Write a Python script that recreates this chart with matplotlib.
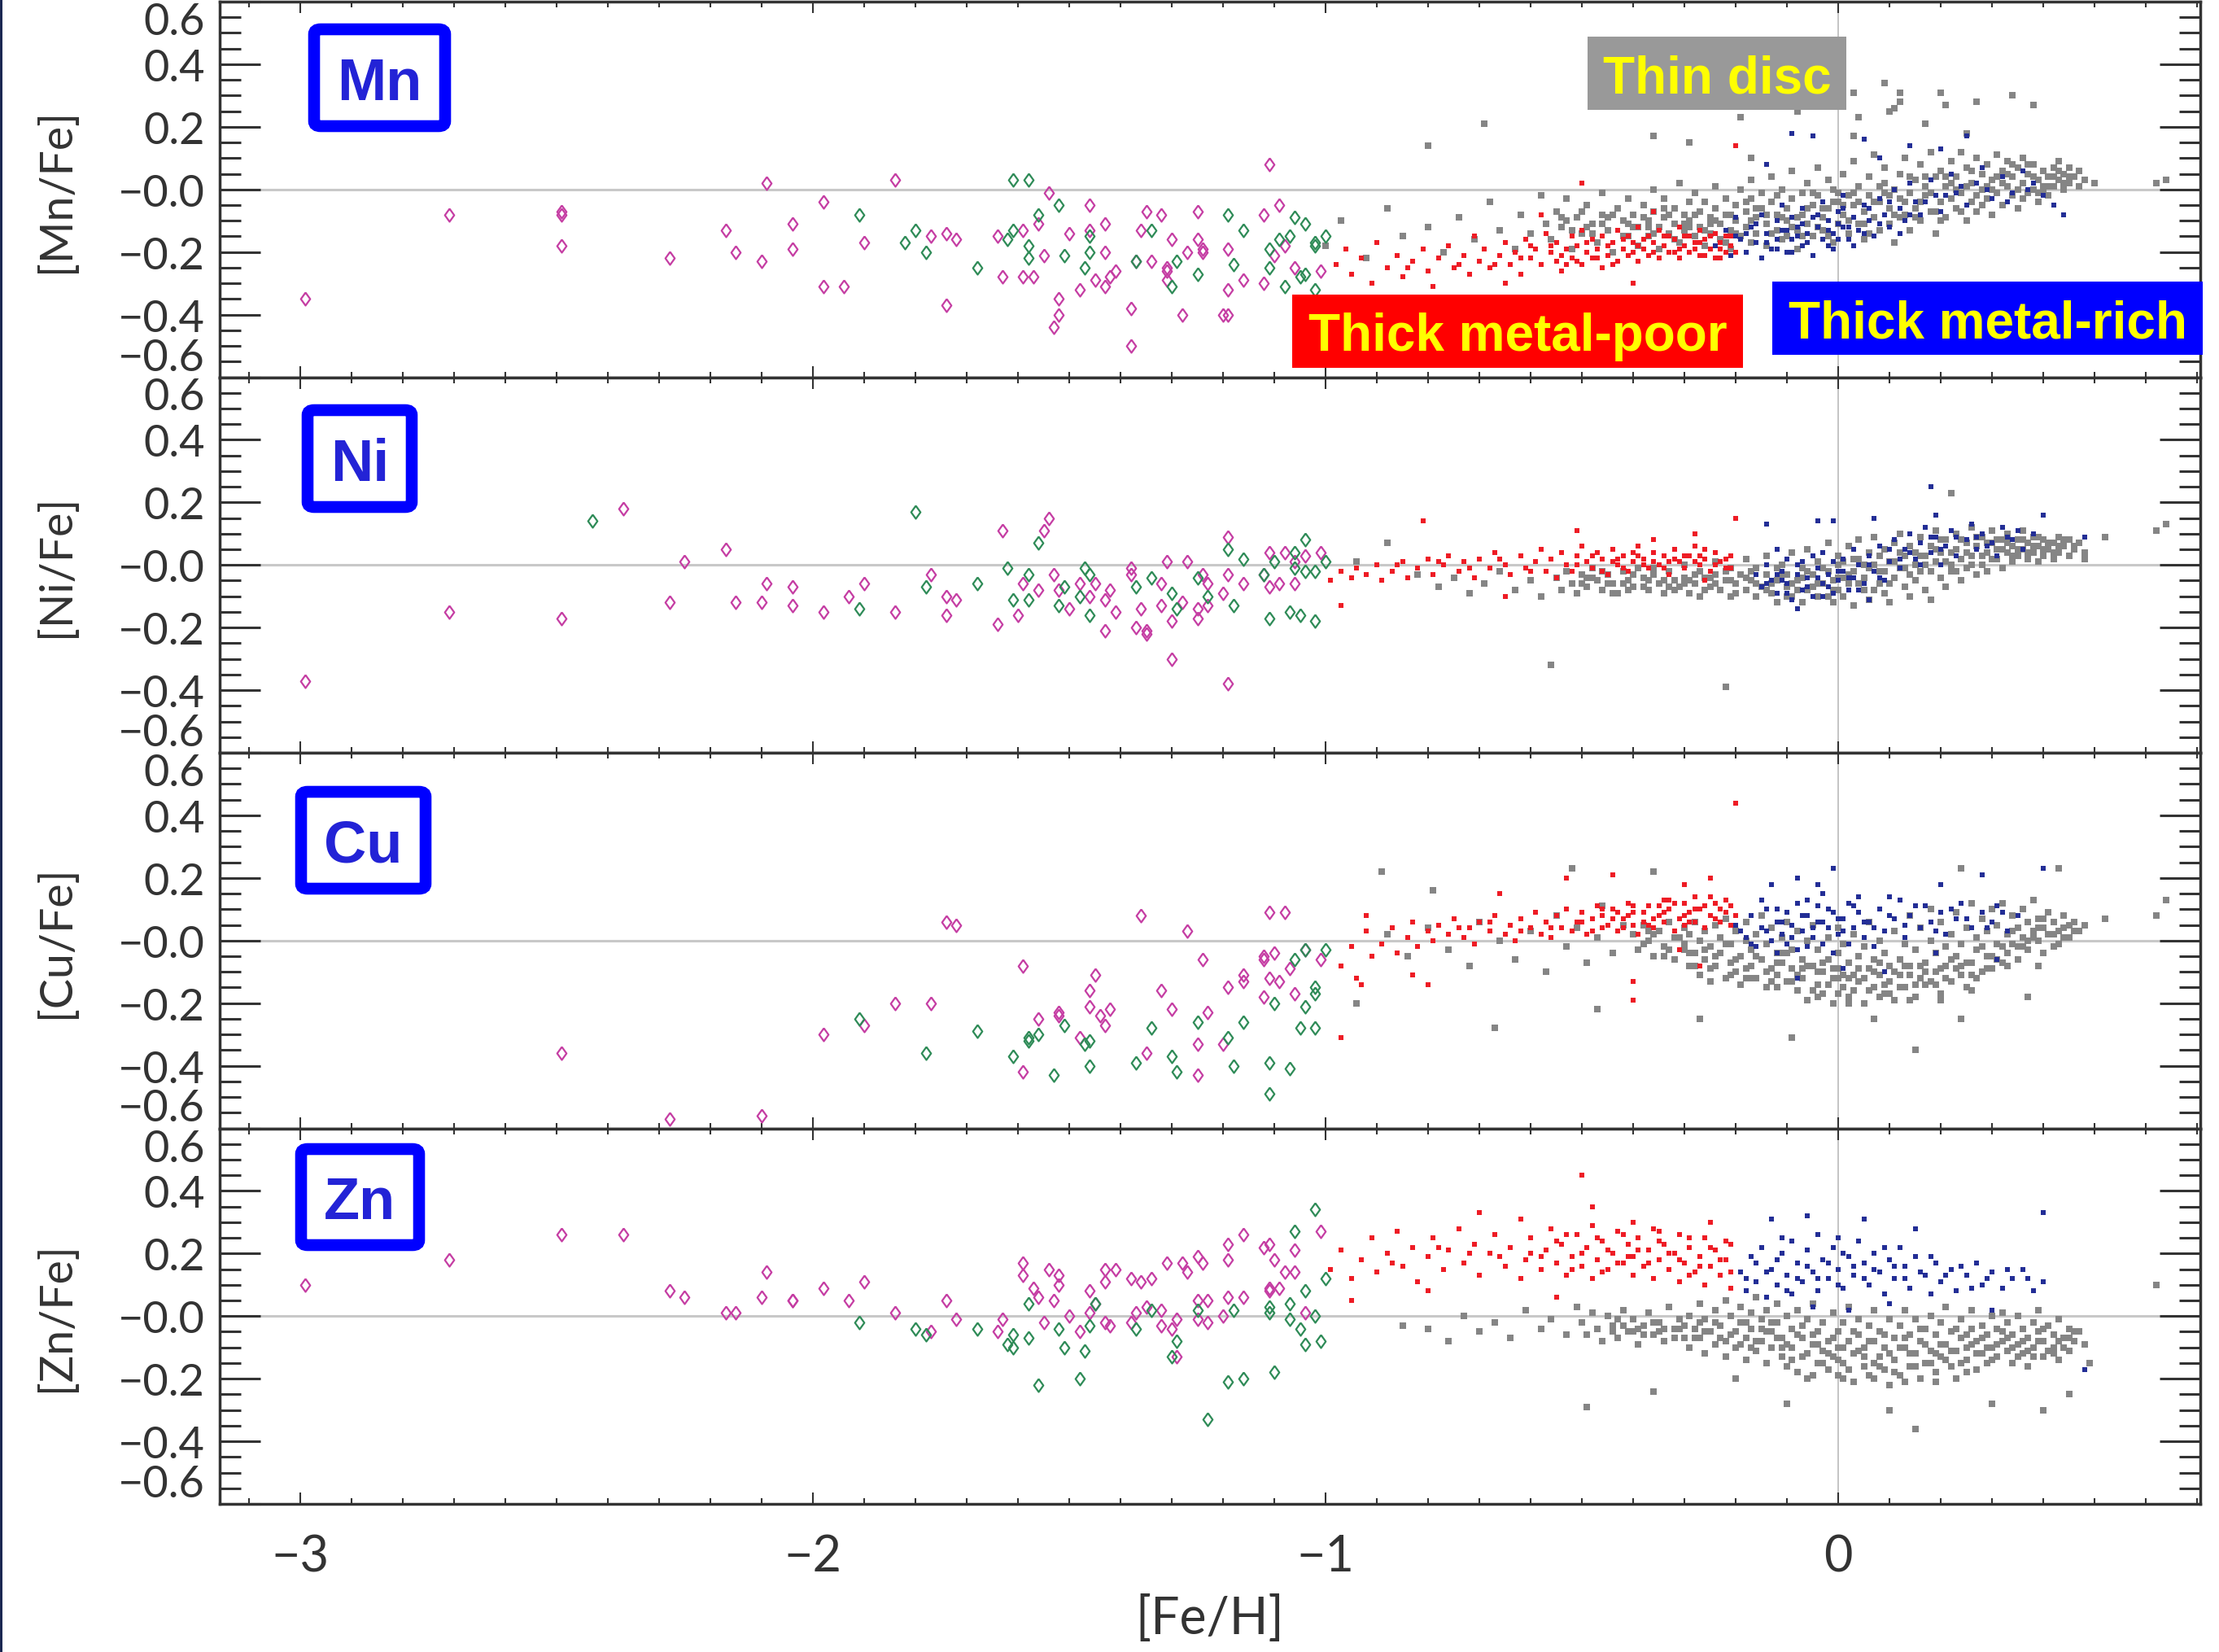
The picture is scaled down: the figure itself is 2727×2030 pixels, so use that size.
import numpy as np
import matplotlib
matplotlib.use('Agg')
import matplotlib.pyplot as plt
from matplotlib.patches import Rectangle, FancyBboxPatch
from matplotlib.ticker import MultipleLocator, FixedLocator

# ---- data: [X/Fe] against [Fe/H] ----
# halo stars (open diamonds), values in dex
mn_halo_a = [(-2.99,-0.35),(-2.71,-0.08),(-2.49,-0.08),(-2.49,-0.07),(-2.49,-0.18),(-2.28,-0.22),(-2.17,-0.13),
             (-2.15,-0.20),(-2.10,-0.23),(-2.09,0.02),(-2.04,-0.11),(-2.04,-0.19),(-1.98,-0.04),(-1.98,-0.31),
             (-1.94,-0.31),(-1.90,-0.17),(-1.84,0.03),(-1.77,-0.15),(-1.74,-0.14),(-1.72,-0.16),(-1.74,-0.37),
             (-1.64,-0.15),(-1.63,-0.28),(-1.59,-0.28),(-1.59,-0.13),(-1.57,-0.28),(-1.56,-0.11),(-1.55,-0.21),
             (-1.54,-0.01),(-1.52,-0.35),(-1.52,-0.40),(-1.53,-0.44),(-1.50,-0.14),(-1.48,-0.32),(-1.46,-0.13),
             (-1.46,-0.05),(-1.43,-0.20),(-1.43,-0.11),(-1.45,-0.29),(-1.43,-0.31),(-1.42,-0.28),(-1.41,-0.26),
             (-1.38,-0.38),(-1.38,-0.50),(-1.37,-0.23),(-1.36,-0.13),(-1.35,-0.07),(-1.34,-0.23),(-1.32,-0.08),
             (-1.31,-0.26),(-1.31,-0.25),(-1.31,-0.29),(-1.30,-0.16),(-1.28,-0.40),(-1.27,-0.20),(-1.25,-0.07),
             (-1.25,-0.16),(-1.24,-0.20),(-1.24,-0.19),(-1.19,-0.32),(-1.20,-0.40),(-1.19,-0.40),(-1.19,-0.19),
             (-1.16,-0.29),(-1.12,-0.30),(-1.12,-0.08),(-1.11,0.08),(-1.09,-0.05),(-1.10,-0.21),(-1.08,-0.18),
             (-1.06,-0.25),(-1.01,-0.26)]
mn_halo_b = [(-1.91,-0.08),(-1.80,-0.13),(-1.82,-0.17),(-1.78,-0.20),(-1.68,-0.25),(-1.61,0.03),(-1.58,0.03),
             (-1.56,-0.08),(-1.61,-0.13),(-1.62,-0.16),(-1.58,-0.18),(-1.58,-0.22),(-1.52,-0.05),(-1.51,-0.21),
             (-1.46,-0.15),(-1.47,-0.25),(-1.46,-0.20),(-1.37,-0.23),(-1.34,-0.13),(-1.29,-0.23),(-1.25,-0.27),
             (-1.30,-0.31),(-1.19,-0.08),(-1.16,-0.13),(-1.18,-0.24),(-1.11,-0.19),(-1.09,-0.16),(-1.07,-0.15),
             (-1.06,-0.09),(-1.04,-0.11),(-1.02,-0.17),(-1.02,-0.18),(-1.00,-0.15),(-1.11,-0.25),(-1.05,-0.28),
             (-1.04,-0.27),(-1.08,-0.31),(-1.02,-0.32)]

ni_halo_a = [(-2.99,-0.37),(-2.71,-0.15),(-2.49,-0.17),(-2.37,0.18),(-2.28,-0.12),(-2.25,0.01),(-2.17,0.05),
             (-2.15,-0.12),(-2.10,-0.12),(-2.09,-0.06),(-2.04,-0.07),(-2.04,-0.13),(-1.98,-0.15),(-1.93,-0.10),
             (-1.90,-0.06),(-1.84,-0.15),(-1.77,-0.03),(-1.74,-0.10),(-1.72,-0.11),(-1.74,-0.16),(-1.64,-0.19),
             (-1.63,0.11),(-1.60,-0.16),(-1.59,-0.06),(-1.56,-0.08),(-1.55,0.11),(-1.54,0.15),(-1.53,-0.03),
             (-1.52,-0.08),(-1.50,-0.14),(-1.48,-0.06),(-1.46,-0.10),(-1.45,-0.06),(-1.43,-0.21),(-1.43,-0.11),
             (-1.42,-0.08),(-1.41,-0.15),(-1.38,-0.01),(-1.38,-0.03),(-1.37,-0.20),(-1.35,-0.22),(-1.35,-0.21),
             (-1.36,-0.14),(-1.32,-0.06),(-1.32,-0.13),(-1.31,0.01),(-1.30,-0.18),(-1.30,-0.30),(-1.28,-0.12),
             (-1.27,0.01),(-1.25,-0.17),(-1.25,-0.14),(-1.24,-0.03),(-1.23,-0.06),(-1.23,-0.13),(-1.20,-0.09),
             (-1.19,0.09),(-1.19,-0.03),(-1.19,-0.38),(-1.16,-0.06),(-1.12,-0.03),(-1.11,-0.07),(-1.11,0.04),
             (-1.09,-0.06),(-1.08,0.04),(-1.06,-0.06),(-1.06,0.01),(-1.04,0.03),(-1.01,0.04)]
ni_halo_b = [(-2.43,0.14),(-1.80,0.17),(-1.91,-0.14),(-1.78,-0.07),(-1.68,-0.06),(-1.62,-0.01),(-1.61,-0.11),
             (-1.58,-0.03),(-1.58,-0.11),(-1.56,0.07),(-1.52,-0.13),(-1.51,-0.07),(-1.48,-0.10),(-1.47,-0.01),
             (-1.46,-0.16),(-1.46,-0.03),(-1.37,-0.07),(-1.34,-0.04),(-1.30,-0.09),(-1.29,-0.14),(-1.25,-0.04),
             (-1.23,-0.10),(-1.19,0.05),(-1.18,-0.13),(-1.16,0.02),(-1.11,-0.17),(-1.12,-0.03),(-1.10,0.01),
             (-1.07,-0.15),(-1.05,-0.16),(-1.02,-0.18),(-1.04,0.08),(-1.06,-0.01),(-1.04,-0.02),(-1.02,-0.02),
             (-1.00,0.01),(-1.06,0.04)]

cu_halo_a = [(-2.49,-0.36),(-2.28,-0.57),(-2.10,-0.56),(-1.98,-0.30),(-1.90,-0.27),(-1.84,-0.20),(-1.77,-0.20),
             (-1.74,0.06),(-1.72,0.05),(-1.59,-0.42),(-1.59,-0.08),(-1.56,-0.25),(-1.52,-0.24),(-1.52,-0.23),
             (-1.48,-0.31),(-1.46,-0.16),(-1.46,-0.21),(-1.45,-0.11),(-1.44,-0.24),(-1.43,-0.27),(-1.42,-0.22),
             (-1.36,0.08),(-1.35,-0.36),(-1.32,-0.16),(-1.30,-0.22),(-1.27,0.03),(-1.25,-0.43),(-1.25,-0.33),
             (-1.24,-0.06),(-1.23,-0.23),(-1.20,-0.33),(-1.19,-0.15),(-1.16,-0.11),(-1.16,-0.13),(-1.12,-0.06),
             (-1.12,-0.05),(-1.11,0.09),(-1.10,-0.04),(-1.11,-0.12),(-1.12,-0.18),(-1.09,-0.13),(-1.08,0.09),
             (-1.07,-0.09),(-1.06,-0.17),(-1.04,-0.03),(-1.01,-0.06)]
cu_halo_b = [(-1.91,-0.25),(-1.78,-0.36),(-1.68,-0.29),(-1.61,-0.37),(-1.58,-0.31),(-1.58,-0.32),(-1.56,-0.30),
             (-1.53,-0.43),(-1.51,-0.27),(-1.47,-0.33),(-1.46,-0.32),(-1.46,-0.40),(-1.37,-0.39),(-1.34,-0.28),
             (-1.30,-0.37),(-1.29,-0.42),(-1.25,-0.26),(-1.19,-0.31),(-1.18,-0.40),(-1.16,-0.26),(-1.11,-0.39),
             (-1.11,-0.49),(-1.10,-0.20),(-1.07,-0.41),(-1.06,-0.06),(-1.05,-0.28),(-1.04,-0.21),(-1.04,-0.03),
             (-1.02,-0.15),(-1.02,-0.28),(-1.02,-0.17),(-1.00,-0.03)]

zn_halo_a = [(-2.99,0.10),(-2.71,0.18),(-2.49,0.26),(-2.37,0.26),(-2.28,0.08),(-2.25,0.06),(-2.17,0.01),
             (-2.15,0.01),(-2.10,0.06),(-2.09,0.14),(-2.04,0.05),(-2.04,0.05),(-1.98,0.09),(-1.93,0.05),
             (-1.90,0.11),(-1.84,0.01),(-1.77,-0.05),(-1.74,0.05),(-1.72,-0.01),(-1.64,-0.05),(-1.63,-0.01),
             (-1.59,0.17),(-1.59,0.13),(-1.57,0.09),(-1.56,0.06),(-1.55,-0.02),(-1.54,0.15),(-1.53,0.05),
             (-1.52,0.13),(-1.52,0.10),(-1.50,0.00),(-1.48,-0.05),(-1.46,0.08),(-1.45,0.04),(-1.46,0.01),
             (-1.43,0.11),(-1.43,0.15),(-1.43,-0.02),(-1.42,-0.03),(-1.41,0.15),(-1.38,-0.02),(-1.38,0.12),
             (-1.37,0.01),(-1.36,0.11),(-1.34,0.12),(-1.35,0.03),(-1.32,0.02),(-1.32,-0.03),(-1.31,0.17),
             (-1.30,-0.04),(-1.29,-0.01),(-1.29,-0.13),(-1.28,0.17),(-1.27,0.14),(-1.25,0.19),(-1.24,0.17),
             (-1.25,0.05),(-1.23,0.05),(-1.25,-0.01),(-1.23,-0.02),(-1.20,0.00),(-1.19,0.06),(-1.19,0.23),
             (-1.19,0.18),(-1.16,0.26),(-1.16,0.06),(-1.12,0.22),(-1.11,0.23),(-1.10,0.18),(-1.11,0.09),
             (-1.11,0.08),(-1.09,0.09),(-1.08,0.14),(-1.06,0.14),(-1.06,0.21),(-1.01,0.27),(-1.04,0.01)]
zn_halo_b = [(-1.91,-0.02),(-1.80,-0.04),(-1.78,-0.06),(-1.68,-0.04),(-1.62,-0.09),(-1.61,-0.06),(-1.61,-0.10),
             (-1.58,0.04),(-1.58,-0.07),(-1.56,-0.22),(-1.52,-0.04),(-1.51,-0.10),(-1.48,-0.20),(-1.47,-0.11),
             (-1.46,-0.03),(-1.45,0.04),(-1.37,-0.04),(-1.34,0.02),(-1.30,-0.13),(-1.29,-0.08),(-1.25,0.02),
             (-1.23,-0.33),(-1.19,-0.21),(-1.18,0.02),(-1.16,-0.20),(-1.11,0.03),(-1.11,0.01),(-1.10,-0.18),
             (-1.07,0.04),(-1.07,-0.01),(-1.06,0.27),(-1.05,-0.04),(-1.04,0.08),(-1.04,-0.09),(-1.02,0.34),
             (-1.02,0.00),(-1.01,-0.08),(-1.00,0.12)]

# disc stars, values in hundredths of dex
mn_thin = [(-100,-18),(-97,-10),(-92,-22),(-88,-6),(-85,-15),(-80,-12),(-77,-20),(-74,-9),(-71,-16),(-68,-4),
           (-66,-13),(-63,-19),(-62,-8),(-60,-14),(-58,-2),(-57,-11),(-69,21),(-80,14),
           (-56,-16),(-55,-7),(-54,-12),(-53,-3),(-52,-19),(-51,-9),(-50,-14),(-49,-5),(-48,-11),(-47,-17),
           (-46,-1),(-46,-8),(-45,-13),(-44,-20),(-43,-6),(-42,-10),(-41,-15),(-41,-3),(-40,-8),
           (-39,-12),(-39,-18),(-38,-5),(-37,-10),(-37,-15),(-36,0),(-36,-7),(-35,-12),(-35,-19),(-34,-3),
           (-34,-9),(-33,-14),(-32,-6),(-32,-11),(-31,-17),(-31,2),(-30,-8),(-30,-13),(-29,-4),(-29,-10),
           (-28,-15),(-28,-1),(-27,-7),(-27,-12),(-26,-18),(-26,-4),(-25,-9),(-25,-14),(-24,1),(-24,-6),
           (-23,-11),(-23,-16),(-22,-3),(-22,-8),(-21,-13),(-21,-19),(-20,-5),(-20,-10),
           (-19,-15),(-19,0),(-18,-7),(-18,-12),(-17,3),(-17,-3),(-17,-17),(-16,-9),(-16,-14),(-15,-1),
           (-15,-6),(-14,-11),(-14,-18),(-13,4),(-13,-4),(-12,-8),(-12,-13),(-11,0),(-11,-16),(-10,-6),
           (-10,-10),(-9,6),(-9,-3),(-8,-13),(-8,-19),(-7,-1),(-7,-8),(-6,2),(-6,-11),(-5,-5),(-5,-15),
           (-4,7),(-4,-2),(-3,-9),(-3,-13),(-2,3),(-2,-6),(-1,-17),(-1,0),(0,-4),(0,-11),
           (1,5),(1,-8),(2,-2),(2,-14),(3,9),(3,-5),(4,1),(4,-11),(5,-7),(5,-16),(6,4),(6,-2),(7,-9),(7,11),
           (8,-4),(8,-13),(9,2),(9,7),(10,-6),(10,-11),(11,0),(11,-17),(12,5),(12,-3),(13,-8),(13,10),
           (14,-1),(14,-13),(15,3),(15,-6),(16,8),(16,-10),(17,-2),(17,1),(18,-7),(18,12),(19,4),(19,-14),
           (20,-4),(20,6),
           (21,-9),(21,1),(22,9),(22,-3),(23,-6),(23,4),(24,-1),(24,12),(25,-10),(25,7),(26,2),(26,-4),
           (27,10),(27,-7),(28,0),(28,5),(29,-3),(29,8),(30,-8),(30,3),(31,11),(31,-1),(32,6),(32,-5),
           (33,1),(33,9),(34,-2),(34,4),(35,7),(35,-6),(36,2),(36,10),(37,-1),(37,5),(38,8),(38,0),(39,3),
           (39,-4),(40,6),(40,1),
           (41,4),(41,-2),(42,7),(42,1),(43,3),(43,9),(44,0),(44,5),(45,2),(45,7),(46,4),(47,1),(47,6),
           (48,3),(50,2),
           (9,34),(12,31),(12,28),(20,31),(34,30),(38,27),(27,28),(3,31),(-8,25),(-19,23),(-36,17),(-29,15),
           (11,26),(10,25),(21,27),(17,21),(3,17),(4,23),(-17,10),(25,18),(62,2),(64,3)]
mn_thin_core = [(-54,-9),(-52,-13),(-50,-7),(-48,-14),(-46,-11),(-44,-8),(-42,-15),(-40,-12),(-38,-9),
                (-36,-14),(-34,-6),(-32,-16),(-30,-11),(-28,-8),(-26,-13),(-24,-10),(-22,-17),(-20,-14),
                (-18,-4),(-16,-6),(-14,-8),(-12,-2),(-10,-15),(-8,-9),(-6,-6),(-4,-12),(-2,-15),(0,-1),
                (2,-10),(4,-4),(6,-14),(8,1),(10,-2),(12,-9),(14,4),(16,-4),(18,-1),(20,-10),(22,2),(24,-7),
                (26,6),(28,-5),(30,0),(32,2),(34,8),(36,-3),(38,4),(40,-1),(42,4),(44,2),
                (-53,-10),(-49,-12),(-45,-9),(-41,-11),(-37,-12),(-33,-8),(-29,-12),(-25,-11),(-21,-8),
                (-17,-10),(-13,-14),(-11,-9),(-9,-12),(-7,-15),(-5,-1),(-3,-6),(-1,-4),(1,-5),(3,-1),
                (5,-11),(7,-4),(9,-1),(11,-8),(13,-4),(15,-9),(17,4),(19,-7),(21,4),(23,0),(25,1),(27,-2),
                (29,1),(31,4),(33,5),(35,0),(37,8),(39,-1),(41,1),(43,6),(45,4)]
mn_poor = [(-98,-24),(-96,-19),(-95,-27),(-93,-22),(-91,-30),(-90,-17),(-88,-25),(-86,-21),(-85,-28),
           (-83,-23),(-81,-19),(-80,-26),(-79,-31),(-78,-22),(-76,-18),(-75,-25),(-73,-21),(-72,-27),
           (-71,-15),(-70,-23),(-69,-19),(-68,-25),(-66,-21),(-65,-17),(-64,-24),(-63,-20),(-62,-27),
           (-61,-16),(-60,-22),(-59,-19),(-58,-24),(-57,-14),(-56,-20),(-55,-17),(-55,-23),(-54,-26),
           (-53,-19),(-52,-15),(-52,-22),(-51,-18),(-50,-24),(-50,-13),(-49,-20),(-48,-16),(-48,-22),
           (-47,-19),(-46,-25),(-46,-15),(-45,-21),(-44,-17),(-43,-23),(-43,-13),(-42,-19),(-41,-15),
           (-41,-21),(-40,-17),(-39,-23),(-39,-12),(-38,-19),(-37,-15),(-37,-21),(-36,-17),(-35,-13),
           (-35,-22),(-34,-18),(-33,-15),(-33,-20),(-32,-16),(-31,-22),(-31,-12),(-30,-18),(-29,-15),
           (-29,-20),(-28,-17),(-27,-13),(-27,-21),(-26,-16),(-25,-19),(-24,-14),(-24,-22),(-23,-17),
           (-22,-15),(-22,-20),(-21,-18),(-20,14),(-50,2),(-40,-30),(-65,-30),(-58,-8),(-36,-7),
           (-56,-18),(-54,-21),(-51,-23),(-49,-17),(-47,-22),(-45,-18),(-44,-24),(-42,-16),(-40,-20),
           (-38,-16),(-36,-20),(-34,-15),(-32,-20),(-30,-15),(-28,-19),(-26,-21),(-25,-15),(-23,-19),
           (-21,-15),(-20,-20),(-62,-22),(-67,-24),(-74,-24),(-84,-25),(-60,-18),(-53,-24),(-39,-18),
           (-27,-17),(-23,-22),(-31,-19)]
mn_rich = [(-24,-18),(-22,-13),(-21,-21),(-20,-9),(-19,-16),(-18,-20),(-17,-12),(-16,-17),(-15,-8),
           (-15,-22),(-14,-14),(-13,-19),(-12,-10),(-12,-16),(-11,-5),(-10,-13),(-10,-20),(-9,-9),(-9,-16),
           (-8,-12),(-7,-6),(-7,-18),(-6,-14),(-5,-9),(-5,-21),(-4,-12),(-3,-16),(-3,-4),(-2,-10),(-1,-14),
           (-1,-19),(0,-7),(1,-12),(1,-2),(2,-16),(3,-9),(4,-13),(5,-5),(6,-10),(7,-15),(8,-3),(9,-8),
           (10,-12),(11,0),(12,-6),(13,-10),(14,2),(15,-4),(16,-8),(18,3),(19,-2),(20,-7),(22,5),(23,-1),
           (25,-5),(27,2),(28,7),(30,-3),(32,4),(34,-1),(36,6),(38,2),(40,-2),(42,-5),(44,-8),
           (-9,18),(-5,17),(5,16),(20,13),(25,17),(-14,8),(8,10),(14,14),
           (-18,-14),(-16,-11),(-14,-17),(-12,-19),(-11,-13),(-9,-20),(-8,-15),(-6,-17),(-4,-8),(-2,-18),
           (-2,-13),(0,-16),(0,-11),(2,-12),(3,-18),(5,-14),(6,-6),(8,-11),(10,-4),(12,-14),(14,-8),
           (17,-4),(21,-2),(24,1),(29,0),(33,-4),(37,0),(-20,-15),(-7,-11),(1,-6)]

ni_thin = [(-94,1),(-88,7),(-82,-3),(-78,-7),(-75,-4),(-72,-9),(-69,-6),(-66,-2),(-63,-8),(-60,-5),
           (-58,-10),(-56,-32),(-22,-39),
           (-55,-4),(-54,-8),(-53,-2),(-52,-6),(-51,-9),(-50,-3),(-49,-7),(-48,-1),(-47,-5),(-46,-8),
           (-45,-3),(-44,-6),(-43,-9),(-42,-2),(-41,-5),(-40,-7),(-39,-1),(-38,-4),(-37,-8),(-36,-3),
           (-35,-6),(-34,-9),(-33,-2),(-32,-5),(-31,-7),(-30,0),(-30,-4),(-29,-9),(-28,-6),(-27,-2),
           (-27,-10),(-26,-4),(-25,-7),(-24,1),(-24,-3),(-23,-8),(-22,-5),(-21,-1),(-21,-10),(-20,-6),
           (-19,-3),(-18,-8),(-18,2),(-17,-5),(-16,-10),(-16,-1),(-15,-7),(-14,-3),(-14,3),(-13,-9),
           (-12,-5),(-12,-12),(-11,0),(-10,-7),(-10,-3),(-9,4),(-9,-10),(-8,-5),(-7,-1),(-7,-12),(-6,-8),
           (-6,5),(-5,-3),(-4,-10),(-4,1),(-3,-6),(-2,7),(-2,-2),(-1,-12),(-1,-8),(0,3),(0,-4),
           (1,-10),(1,1),(2,6),(2,-6),(3,-2),(3,-13),(4,8),(4,2),(5,-8),(5,-4),(6,4),(6,-11),(7,0),(7,9),
           (8,-6),(8,-2),(9,5),(9,-9),(10,1),(10,-12),(11,7),(11,-4),(12,-1),(12,10),(13,-7),(13,3),
           (14,-10),(14,6),(15,0),(15,-5),(16,9),(16,-2),(17,3),(17,-8),(18,6),(18,-11),(19,1),(19,11),
           (20,-4),(20,4),(21,-7),(21,8),(22,0),(22,-2),(23,5),(23,10),(24,-5),(24,2),(25,7),(25,-1),
           (26,12),(26,3),(27,-3),(27,6),(28,9),(28,0),(29,4),(29,-2),(30,7),(30,11),(31,2),(31,5),(32,8),
           (32,-1),(33,4),(33,10),(34,6),(34,1),(35,8),(35,3),(36,11),(36,5),(37,2),(37,7),(38,9),(38,4),
           (39,6),(39,1),(40,8),(40,3),(41,5),(42,7),(42,2),(43,9),(43,4),(44,6),(45,3),(45,8),(46,5),
           (47,7),(48,4),(22,23),(64,13),(62,11),(52,9),(48,2)]
ni_thin_core = [(-50,-6),(-48,-4),(-46,-2),(-44,-9),(-42,-6),(-40,-3),(-38,-7),(-36,-1),(-34,-5),(-32,-8),
                (-30,-6),(-28,-3),(-26,-8),(-24,-6),(-22,-2),(-20,-9),(-18,-4),(-16,-6),(-14,-8),(-12,-1),
                (-10,-10),(-8,-8),(-6,-2),(-4,-6),(-2,-10),(0,-8),(0,0),(2,-3),(4,-6),(6,-1),(8,3),(10,-6),
                (12,4),(14,-3),(16,3),(18,-2),(20,8),(22,4),(24,8),(26,0),(28,3),(30,2),(32,5),(34,3),(36,8),
                (38,6),(40,5),(42,4),(44,8),(46,6),
                (-49,-4),(-45,-6),(-41,-8),(-37,-5),(-33,-7),(-29,-5),(-25,-4),(-21,-5),(-17,-2),(-13,-6),
                (-11,-3),(-9,-6),(-7,-4),(-5,-7),(-3,-1),(-1,-5),(1,-4),(3,2),(5,0),(7,-8),(9,-2),(11,1),
                (13,-1),(15,4),(17,0),(19,5),(21,1),(23,-2),(25,4),(27,9),(29,7),(31,8),(33,7),(35,5),(37,4),
                (39,9),(41,7),(43,6)]
ni_poor = [(-99,-5),(-97,-2),(-95,-4),(-94,-1),(-92,-3),(-90,0),(-89,-5),(-87,-2),(-85,1),(-84,-4),(-82,-1),
           (-80,2),(-79,-3),(-77,0),(-76,3),(-74,-2),(-73,1),(-71,-4),(-70,2),(-68,-1),(-67,4),(-65,0),
           (-64,-3),(-62,3),(-61,-1),(-59,1),(-58,5),(-57,-2),(-56,2),(-55,-4),(-54,4),(-53,0),(-52,-2),
           (-51,3),(-50,6),(-49,1),(-48,-1),(-47,4),(-46,2),(-45,-3),(-44,5),(-43,0),(-42,3),(-41,-2),
           (-40,1),(-39,6),(-38,2),(-37,-1),(-36,4),(-35,0),(-34,3),(-33,-3),(-32,5),(-31,1),(-30,-1),
           (-29,3),(-28,6),(-27,0),(-26,2),(-25,-2),(-24,4),(-23,1),(-22,-1),(-21,3),
           (-81,14),(-20,15),(-97,-13),(-65,-10),(-51,11),(-28,10),(-26,-5),(-36,8),
           (-48,3),(-46,-2),(-44,1),(-42,-1),(-40,4),(-38,0),(-36,1),(-34,-1),(-32,2),(-30,3),(-28,1),
           (-26,5),(-24,0),(-22,2),(-21,-1),(-60,-2),(-66,2),(-72,-1),(-78,1),(-86,0),(-39,3),(-33,1),
           (-27,3),(-43,2),(-51,0)]
ni_rich = [(-16,-3),(-15,-7),(-14,0),(-13,-5),(-12,-9),(-11,-2),(-10,2),(-10,-6),(-9,-11),(-8,-3),(-7,1),
           (-7,-8),(-6,-4),(-5,3),(-5,-10),(-4,-1),(-3,-6),(-3,4),(-2,-3),(-1,-9),(-1,1),(0,-5),(1,2),
           (1,-2),(2,-8),(3,5),(3,-4),(4,0),(5,-6),(6,3),(7,-2),(8,6),(9,-5),(10,1),(11,8),(12,-1),(13,5),
           (14,10),(15,2),(16,7),(17,12),(18,4),(19,9),(20,0),(21,6),(22,11),(23,3),(25,8),(26,13),(27,5),
           (28,10),(30,7),(31,3),(32,12),(34,8),(36,5),(38,10),(-12,5),(-8,-14),(6,-11),
           (18,25),(-14,13),(-4,14),(-1,14),(7,15),(19,16),(40,16),(48,9),
           (-14,-6),(-12,-3),(-10,-9),(-8,0),(-6,-7),(-4,-4),(-2,-7),(0,-2),(2,-4),(4,-8),(6,0),(8,-4),
           (10,5),(12,2),(14,4),(16,0),(18,9),(20,5),(23,9),(27,9),(29,6),(33,9),(35,11),(-11,-5),(-3,-10)]

cu_thin = [(-94,-20),(-89,22),(-79,16),(-67,-28),(-47,-22),(-52,23),(-36,22),(-9,-31),(15,-35),(24,-25),
           (7,-25),(-27,-25),(37,-18),(24,23),(43,23),(64,13),(62,8),(52,7),(39,-8),
           (-88,2),(-84,-5),(-80,4),(-76,-3),(-72,-8),(-70,6),(-66,0),(-63,-6),(-60,3),(-57,-10),(-55,8),
           (-53,-2),(-51,4),(-49,-7),(-47,1),(-46,11),(-44,-4),(-42,5),
           (-40,2),(-39,-3),(-38,5),(-37,0),(-36,-5),(-35,3),(-34,-2),(-33,6),(-32,-6),(-31,1),(-30,-3),
           (-30,4),
           (-29,-8),(-29,2),(-28,-4),(-28,6),(-27,-11),(-27,0),(-26,-6),(-26,3),(-25,-13),(-25,-2),(-24,5),
           (-24,-8),(-23,-4),(-23,1),(-22,-12),(-22,7),(-21,-7),(-21,-1),(-20,3),(-20,-10),(-19,-5),
           (-19,-14),(-18,0),(-18,6),(-17,-8),(-17,-3),(-16,-12),(-16,2),(-15,-6),(-15,8),(-14,-1),
           (-14,-15),(-13,-9),(-13,4),(-12,-4),(-12,-11),(-11,1),(-11,-7),(-10,6),(-10,-13),
           (-9,-3),(-9,-9),(-8,-16),(-8,3),(-7,-6),(-7,-12),(-6,0),(-6,-19),(-5,-8),(-5,5),(-4,-14),
           (-4,-3),(-3,-10),(-3,-17),(-2,1),(-2,-6),(-1,-12),(-1,-20),(0,-4),(0,-9),(0,4),(1,-15),(1,-1),
           (2,-7),(2,-18),(3,-11),(3,2),(4,-5),(4,-13),(5,-20),(5,-2),(6,-9),(6,6),(7,-15),(7,-6),(8,-11),
           (8,0),(9,-17),(9,-4),(10,-8),(10,-13),
           (11,3),(11,-19),(12,-6),(12,-11),(13,-15),(13,-1),(14,-8),(14,8),(15,-3),(15,-18),(16,-12),
           (16,4),(17,-7),(17,-14),(18,0),(18,10),(19,-10),(19,-4),(20,-17),(20,6),(21,-2),(21,-8),
           (22,-13),(22,2),(23,9),(23,-5),(24,-11),(24,-1),(25,4),(25,-15),(26,-7),(26,12),(27,-3),(27,1),
           (28,-10),(28,7),(29,-5),(29,3),(30,-9),(30,10),
           (31,-1),(31,5),(32,-7),(32,12),(33,2),(33,-4),(34,8),(34,-1),(35,4),(35,-6),(36,10),(36,1),
           (37,-3),(37,6),(38,3),(38,13),(39,0),(39,7),(40,-4),(40,4),(41,9),(42,2),(42,6),(43,-1),(44,4),
           (44,8),(45,1),(46,6),(47,3),(48,5)]
cu_thin_core = [(-38,-1),(-36,2),(-34,-5),(-32,1),(-30,-1),(-28,-8),(-26,-3),(-24,-5),(-22,-1),(-20,-6),
                (-18,-9),(-16,-5),(-14,-10),(-12,-7),(-10,-4),(-8,-11),(-6,-8),(-4,-10),(-2,-14),(0,-12),
                (0,-17),(2,-12),(4,-9),(6,-16),(8,-7),(10,-17),(12,-15),(14,-11),(16,-8),(18,-13),(20,-9),
                (22,-6),(24,-8),(26,-11),(28,-2),(30,-5),(32,-2),(34,3),(36,-2),(38,1),(40,7),(42,-2),(44,1),
                (46,3),
                (-37,3),(-33,-3),(-29,-4),(-25,-9),(-21,-11),(-17,-12),(-13,-13),(-11,-4),(-9,-13),(-7,-9),
                (-5,-16),(-3,-7),(-1,-9),(1,-11),(3,-16),(5,-12),(7,-10),(9,-14),(11,-10),(13,-8),(15,-14),
                (17,-10),(19,-14),(21,-12),(23,-9),(25,-7),(27,-12),(29,-9),(31,-6),(33,-8),(35,-2),(37,0),
                (39,4),(41,2),(43,3),(45,5),
                (-4,-18),(2,-20),(8,-18),(14,-19),(20,-19),(26,-16),(-12,-15),(-18,-12)]
cu_poor = [(-97,-8),(-95,-2),(-94,-12),(-92,3),(-91,-5),(-89,-1),(-87,4),(-86,-4),(-84,1),(-83,6),(-82,-2),
           (-80,3),(-79,0),(-78,5),(-76,2),(-75,7),(-73,1),(-72,4),(-71,-1),(-70,6),(-68,3),(-67,8),(-65,2),
           (-64,5),(-63,0),(-62,7),(-60,4),(-59,9),(-58,2),(-57,6),(-56,1),(-55,8),(-54,4),(-53,10),(-52,3),
           (-51,6),(-50,9),(-49,2),(-48,7),(-47,11),(-46,4),(-46,8),(-45,5),(-44,10),(-43,3),(-42,7),
           (-41,12),(-40,5),(-40,9),(-39,2),(-38,6),(-37,11),(-36,4),(-35,8),(-34,13),(-34,6),(-33,10),
           (-32,3),(-31,7),(-30,12),(-30,5),(-29,9),(-28,14),(-28,6),(-27,10),(-26,4),(-25,8),(-24,12),
           (-23,6),(-22,9),(-21,5),(-21,11),(-20,8),
           (-20,44),(-25,20),(-30,18),(-44,21),(-53,20),(-66,15),(-92,8),(-97,-31),(-40,-19),(-40,-13),
           (-93,-14),(-80,-14),(-83,-11),(-27,-8),(-31,-3),
           (-50,6),(-48,3),(-46,10),(-44,7),(-42,4),(-40,11),(-38,9),(-36,7),(-34,9),(-32,12),(-30,8),
           (-28,10),(-26,11),(-24,7),(-22,13),(-20,5),(-56,4),(-62,3),(-68,6),(-74,4),(-43,9),(-37,5),
           (-33,13),(-29,6),(-25,14),(-23,10),(-35,11),(-41,8)]
cu_rich = [(-20,5),(-18,1),(-17,8),(-16,-2),(-15,4),(-14,10),(-13,0),(-12,6),(-12,-4),(-11,2),(-10,9),
           (-10,-1),(-9,5),(-8,-3),(-8,12),(-7,3),(-6,8),(-6,-2),(-5,1),(-4,6),(-4,11),(-3,-1),(-2,4),(-1,9),
           (-1,-4),(0,2),(1,7),(2,-1),(2,12),(3,4),(4,9),(5,1),(6,6),(7,-2),(8,10),(9,3),(11,7),(12,13),
           (13,1),(14,8),(16,4),(17,11),(18,6),(20,9),(21,2),(23,7),(24,12),(26,4),(28,9),(30,6),(31,11),
           (33,3),(35,8),(-15,13),(-3,15),(10,14),
           (-1,23),(40,23),(28,21),(-8,20),(-13,18),(-4,18),(20,18),(-8,-12),(1,-9),(9,-10),(19,-4),(31,-6),
           (-19,3),(-17,-1),(-14,3),(-11,6),(-9,1),(-7,8),(-5,4),(-3,6),(-2,10),(0,7),(1,3),(3,11),(5,6),
           (7,4),(10,8),(13,5),(15,11),(19,3),(22,10),(25,7),(29,4),(32,9),(-12,10),(-6,13),(4,14)]

zn_thin = [(-85,-3),(-80,-4),(-76,-8),(-73,0),(-70,-5),(-67,-2),(-64,-7),(-61,2),(-58,-4),(-56,-1),(-53,-6),
           (-51,3),(-49,-29),(-36,-24),(15,-36),(40,-30),(49,-15),(62,10),(10,-30),(-20,-20),(30,-28),
           (45,-25),(-10,-28),
           (-50,-2),(-49,-6),(-48,1),(-47,-4),(-46,-8),(-45,0),(-44,-3),(-43,-7),(-42,2),(-41,-5),(-40,-1),
           (-39,-9),(-38,-3),(-37,1),(-36,-6),(-35,-2),(-34,-8),(-33,3),(-32,-4),(-31,-1),(-30,-7),
           (-29,0),(-29,-10),(-28,-4),(-27,4),(-27,-7),(-26,-1),(-26,-12),(-25,-5),(-24,2),(-24,-9),
           (-23,-3),(-22,-13),(-22,5),(-21,-6),(-21,0),(-20,-10),(-19,-2),(-19,3),(-18,-7),(-18,-14),
           (-17,1),(-17,-4),(-16,-11),(-16,6),(-15,-1),(-15,-8),(-14,-15),(-14,2),(-13,-5),(-13,-10),
           (-12,4),(-12,-2),(-11,-13),(-11,-7),(-10,0),(-10,-16),
           (-9,-4),(-9,-10),(-8,2),(-8,-18),(-7,-7),(-7,-13),(-6,-1),(-6,-20),(-5,-9),(-5,4),(-4,-15),
           (-4,-5),(-3,-11),(-3,-2),(-2,-17),(-2,-8),(-1,1),(-1,-13),(0,-5),(0,-19),(0,-10),(1,-2),(1,-15),
           (2,-8),(2,3),(3,-12),(3,-21),(4,-6),(4,-1),(5,-16),(5,-10),(6,-3),(6,-19),(7,-8),(7,2),(8,-13),
           (8,-5),(9,-17),(9,-10),(10,-1),(10,-22),
           (11,-7),(11,-14),(12,-3),(12,-19),(13,-10),(13,2),(14,-16),(14,-6),(15,-12),(15,-1),(16,-20),
           (16,-8),(17,-4),(17,-15),(18,0),(18,-11),(19,-18),(19,-6),(20,-13),(20,-2),(21,-9),(21,3),
           (22,-16),(22,-5),(23,-11),(23,-20),(24,-1),(24,-7),(25,-14),(25,-10),(26,-4),(26,2),(27,-17),
           (27,-8),(28,-12),(28,-3),(29,-6),(29,-15),(30,0),(30,-10),
           (31,-4),(31,-13),(32,-8),(32,1),(33,-11),(33,-2),(34,-15),(34,-6),(35,-9),(35,0),(36,-12),
           (36,-4),(37,-7),(37,-16),(38,-2),(38,-10),(39,-5),(39,2),(40,-13),(40,-8),(41,-3),(42,-10),
           (42,-6),(43,-1),(43,-14),(44,-7),(45,-4),(45,-11),(46,-8),(47,-5),(48,-9)]
zn_thin_core = [(-44,-5),(-42,-3),(-40,-5),(-38,-6),(-36,-2),(-34,-4),(-32,-7),(-30,-3),(-28,-7),(-26,-5),
                (-24,-2),(-22,-8),(-20,-5),(-18,-2),(-16,-8),(-14,-5),(-12,-7),(-10,-9),(-8,-6),(-6,-12),
                (-4,-9),(-2,-12),(0,-14),(2,-17),(4,-11),(6,-8),(8,-16),(10,-12),(12,-10),(14,-12),(16,-4),
                (18,-15),(20,-9),(22,-11),(24,-15),(26,-9),(28,-7),(30,-14),(32,-5),(34,-10),(36,-8),
                (38,-13),(40,-4),(42,-12),(44,-10),(46,-5),
                (-43,-1),(-39,-4),(-35,-5),(-31,-4),(-27,-2),(-23,-7),(-19,-9),(-17,-10),(-15,-4),(-13,-2),
                (-11,-10),(-9,-14),(-7,-3),(-5,-6),(-3,-15),(-1,-7),(1,-10),(3,-5),(5,-13),(7,-15),(9,-6),
                (11,-18),(13,-7),(15,-16),(17,-9),(19,-12),(21,-14),(23,-4),(25,-6),(27,-12),(29,-10),
                (31,-9),(33,-7),(35,-13),(37,-11),(39,-8),(41,-11),(43,-8),(45,-7),
                (-5,-19),(1,-20),(7,-20),(13,-21),(19,-21),(25,-18)]
zn_poor = [(-99,15),(-97,21),(-95,12),(-93,18),(-91,25),(-90,14),(-88,20),(-86,27),(-85,16),(-83,22),(-82,11),
           (-80,19),(-79,25),(-77,15),(-76,21),(-74,28),(-73,17),(-71,23),(-70,13),(-68,20),(-67,26),
           (-65,16),(-64,22),(-62,12),(-61,18),(-60,25),(-58,15),(-57,21),(-56,28),(-55,17),(-54,23),
           (-53,13),(-52,19),(-51,26),(-50,16),(-49,22),(-48,29),(-48,12),(-47,18),(-46,24),(-45,15),
           (-44,20),(-43,27),(-42,17),(-41,23),(-40,13),(-40,19),(-39,25),(-38,16),(-37,21),(-36,28),
           (-36,12),(-35,18),(-34,23),(-33,15),(-32,20),(-31,26),(-31,11),(-30,17),(-29,22),(-28,14),
           (-27,19),(-26,25),(-26,10),(-25,16),(-24,21),(-23,13),(-22,18),(-21,23),(-21,9),
           (-50,45),(-70,33),(-62,31),(-48,35),(-40,30),(-25,30),(-95,5),(-80,8),(-55,6),
           (-58,19),(-55,24),(-52,15),(-50,20),(-47,25),(-45,21),(-43,17),(-41,19),(-39,21),(-37,17),
           (-35,24),(-33,20),(-31,18),(-29,25),(-27,16),(-25,22),(-23,18),(-22,24),(-21,14),(-29,13),
           (-46,14),(-53,26),(-60,20),(-66,19),(-72,20),(-78,22),(-87,17),(-35,27),(-42,26)]
zn_rich = [(-19,14),(-18,8),(-17,19),(-16,11),(-15,22),(-14,6),(-13,15),(-12,10),(-11,20),(-10,13),(-9,7),
           (-9,24),(-8,17),(-7,11),(-6,21),(-5,14),(-4,8),(-4,26),(-3,18),(-2,12),(-1,22),(0,15),(1,9),
           (2,19),(3,13),(4,24),(5,17),(6,10),(7,20),(8,14),(9,7),(10,18),(11,12),(12,22),(13,16),(14,9),
           (15,19),(17,13),(18,7),(19,17),(20,11),(22,15),(23,8),(25,13),(27,17),(28,10),(30,14),(32,9),
           (34,12),(36,15),(38,8),(40,11),
           (40,33),(-13,31),(-6,32),(5,31),(15,28),(48,-17),(-5,3),(2,2),(10,4),(30,2),
           (-18,12),(-16,17),(-14,14),(-12,18),(-10,8),(-8,12),(-6,16),(-4,12),(-2,17),(0,10),(1,20),
           (3,16),(5,12),(7,15),(9,22),(11,16),(13,12),(16,14),(18,19),(21,13),(24,16),(26,9),(29,12),
           (33,15),(37,12),(-11,25),(0,25)]

elements = ['Mn', 'Ni', 'Cu', 'Zn']
ytick_vals = [-0.6, -0.4, -0.2, 0.0, 0.2, 0.4, 0.6]
ytick_text = ['\u22120.6', '\u22120.4', '\u22120.2', '\u22120.0', '0.2', '0.4', '0.6']
xtick_vals = [-3, -2, -1, 0]
xtick_text = ['\u22123', '\u22122', '\u22121', '0']

panels = [
    (mn_halo_a, mn_halo_b, mn_thin + mn_thin_core, mn_poor, mn_rich),
    (ni_halo_a, ni_halo_b, ni_thin + ni_thin_core, ni_poor, ni_rich),
    (cu_halo_a, cu_halo_b, cu_thin + cu_thin_core, cu_poor, cu_rich),
    (zn_halo_a, zn_halo_b, zn_thin + zn_thin_core, zn_poor, zn_rich),
]

plt.rcParams['font.family'] = ['Lato', 'DejaVu Sans']

W, H = 2727, 2031
fig = plt.figure(figsize=(W / 100, H / 100), dpi=100)
fig.subplots_adjust(left=270 / W, right=2704 / W, top=1 - 3 / H, bottom=1 - 1849 / H, hspace=0)
axes = fig.subplots(4, 1, sharex=True)

ink = '#333333'
# tall open diamond used for the halo stars
diamond = [(0, 1), (0.72, 0), (0, -1), (-0.72, 0), (0, 1)]

def split(pairs, scale=1.0):
    a = np.array(pairs, dtype=float) * scale
    return a[:, 0], a[:, 1]

for i, ax in enumerate(axes):
    halo_a, halo_b, thin, poor, rich = panels[i]
    ax.axhline(0, color='#c8c8c8', lw=2.2, zorder=0)
    ax.axvline(0, color='#c4c4c4', lw=1.4, zorder=0)

    x, y = split(thin, 0.01)
    ax.plot(x, y, 's', ms=5.4, mew=0, color='#858585', zorder=2)
    x, y = split(poor, 0.01)
    ax.plot(x, y, 's', ms=4.8, mew=0, color='#ee1c25', zorder=3)
    x, y = split(rich, 0.01)
    ax.plot(x, y, 's', ms=4.8, mew=0, color='#232e96', zorder=4)
    x, y = split(halo_a)
    ax.plot(x, y, marker=diamond, ms=11.5, ls='none', mfc='none', mec='#c53da3', mew=1.6, zorder=5)
    x, y = split(halo_b)
    ax.plot(x, y, marker=diamond, ms=11.5, ls='none', mfc='none', mec='#2e8b57', mew=1.6, zorder=5)

    ax.set_xlim(-3.157, 0.706)
    ax.set_ylim(-0.6, 0.6)

    ax.yaxis.set_major_locator(FixedLocator(ytick_vals))
    ax.set_yticklabels(ytick_text)
    ax.yaxis.set_minor_locator(MultipleLocator(0.05))
    ax.xaxis.set_major_locator(FixedLocator(xtick_vals))
    ax.xaxis.set_minor_locator(MultipleLocator(0.1))

    ax.tick_params(axis='y', which='major', direction='in', length=36, width=2.2, left=True, right=True,
                   pad=13, labelsize=39, colors=ink)
    ax.tick_params(axis='y', which='minor', direction='in', length=19, width=2.2, left=True, right=True,
                   colors=ink)
    ax.tick_params(axis='x', which='major', direction='in', length=10, width=1.5, top=True, bottom=True,
                   pad=26, labelsize=44, colors=ink, labelbottom=(i == 3))
    ax.tick_params(axis='x', which='minor', direction='in', length=5, width=1.5, top=True, bottom=True,
                   colors=ink)
    labels = ax.get_yticklabels()
    labels[0].set_va('bottom')
    labels[-1].set_va('top')
    for sp in ax.spines.values():
        sp.set_linewidth(2.5)
        sp.set_color(ink)

    # axis title on the left of each panel
    y0 = 3 + i * 461.5
    fig.text(69 / W, 1 - (y0 + 231) / H, '[%s/Fe]' % elements[i], rotation=90, ha='center', va='center',
             fontsize=40, color=ink)

axes[-1].set_xticklabels(xtick_text)
fig.text(1487 / W, 1 - 1990 / H, '[Fe/H]', ha='center', va='center', fontsize=45, color=ink)


def fig_box(x0, y0, x1, y1, **kw):
    # box given in pixel coordinates measured from the top left corner
    return FancyBboxPatch((x0 / W, 1 - y1 / H), (x1 - x0) / W, (y1 - y0) / H,
                          boxstyle='round,pad=0,rounding_size=0.003', transform=fig.transFigure, **kw)

# element tags
tags = [('Mn', (386, 37, 547, 156)), ('Ni', (378, 505, 506, 624)),
        ('Cu', (370, 974, 523, 1093)), ('Zn', (370, 1413, 515, 1531))]
for name, (x0, y0, x1, y1) in tags:
    fig.add_artist(fig_box(x0, y0, x1, y1, fc='white', ec='#0000ff', lw=10.5, zorder=10))
    fig.text((x0 + x1) / 2 / W, 1 - (y0 + y1) / 2 / H, name, ha='center', va='center_baseline',
             fontsize=52, fontweight='bold', family=['Liberation Sans', 'DejaVu Sans'],
             color='#2323d6', zorder=11)

# population labels
pops = [('Thin disc', (1951, 46, 2269, 136), '#999999'),
        ('Thick metal-poor', (1588, 363, 2142, 453), '#ff0000'),
        ('Thick metal-rich', (2178, 347, 2707, 437), '#0000ff')]
for name, (x0, y0, x1, y1), col in pops:
    fig.add_artist(Rectangle((x0 / W, 1 - y1 / H), (x1 - x0) / W, (y1 - y0) / H,
                             transform=fig.transFigure, fc=col, ec='none', zorder=10))
    fig.text((x0 + x1) / 2 / W, 1 - (y0 + y1) / 2 / H, name, ha='center', va='center_baseline',
             fontsize=46, fontweight='bold', family=['Liberation Sans', 'DejaVu Sans'],
             color='#ffff00', zorder=11)

# thin dark edge on the left of the page
fig.add_artist(Rectangle((0, 0), 2.5 / W, 1, transform=fig.transFigure, fc='#1b2752', ec='none', zorder=12))

fig.savefig('out.png', dpi=100)
